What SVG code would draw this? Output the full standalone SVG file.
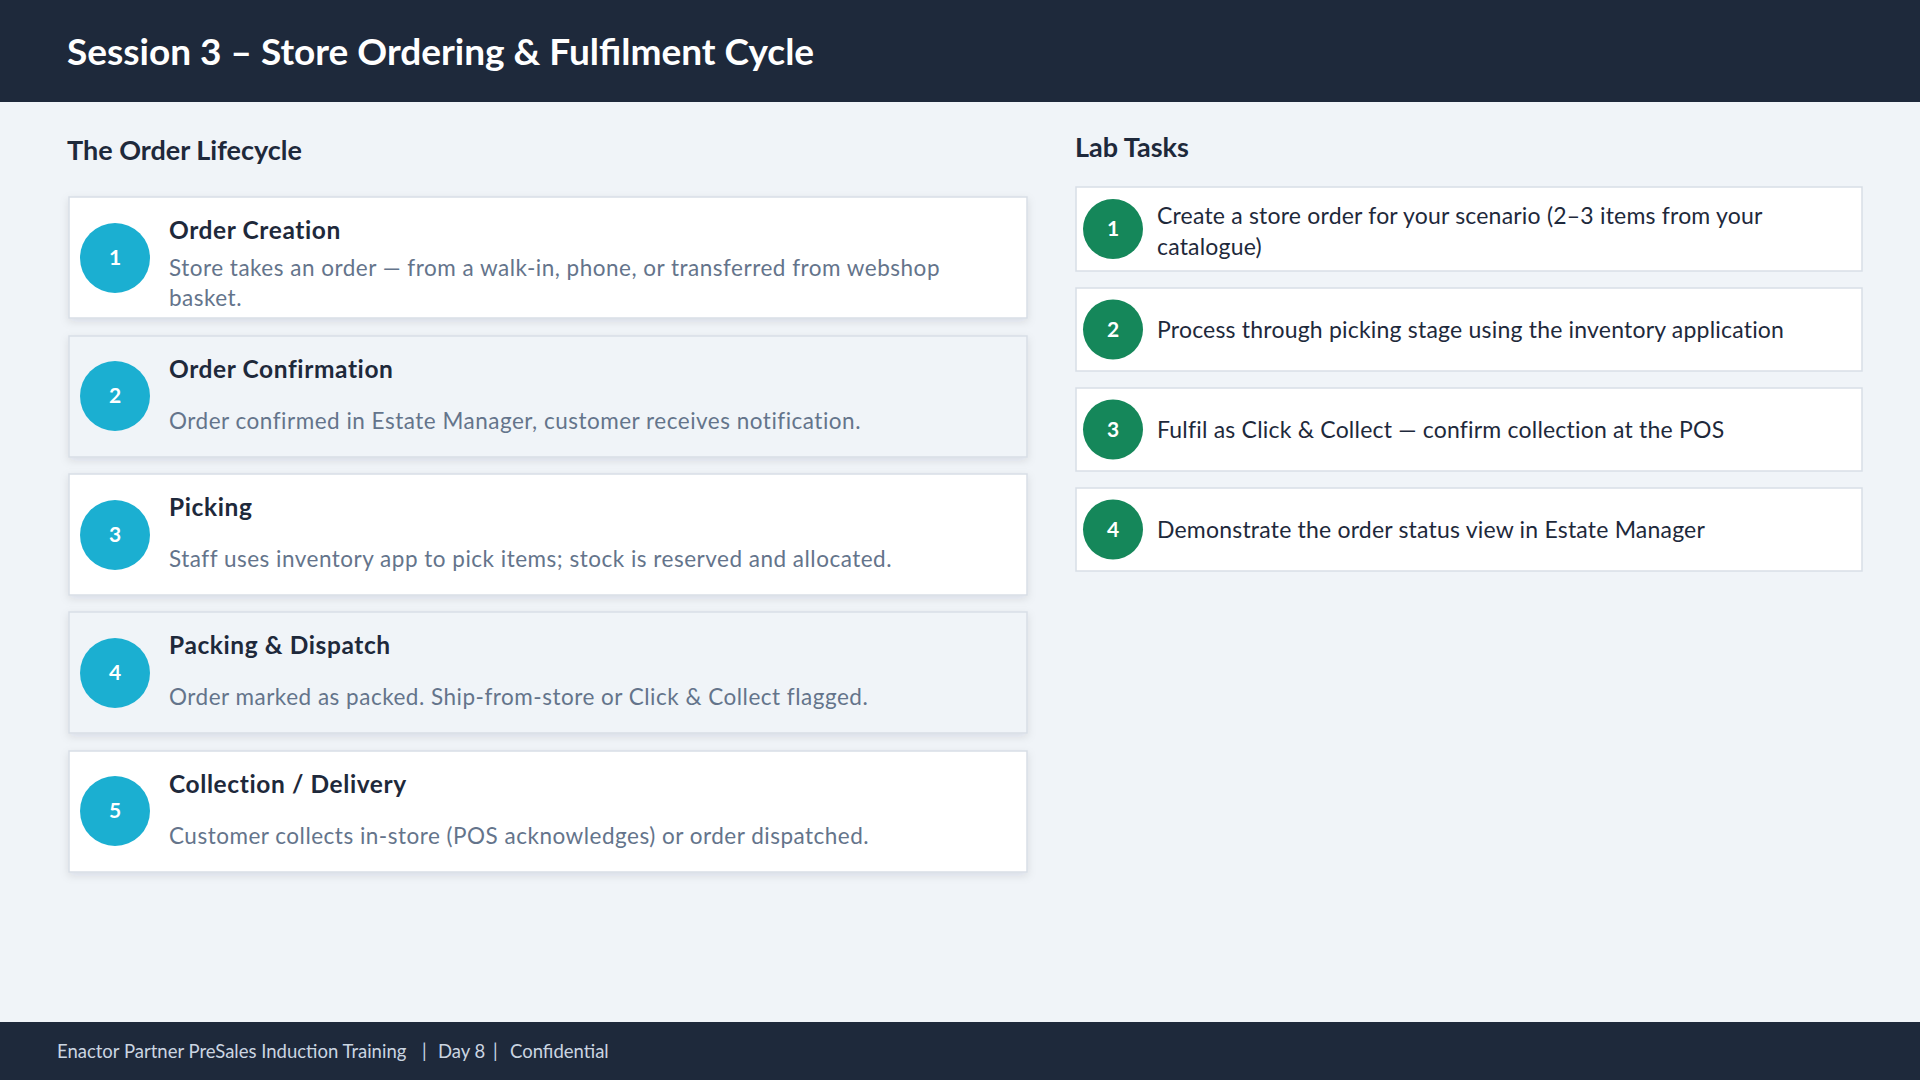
<svg xmlns="http://www.w3.org/2000/svg" width="1920" height="1080" viewBox="0 0 1920 1080">
<style>
.t{font-family:Lato,"Liberation Sans",sans-serif}
.h1{font-size:37px;font-weight:700;fill:#ffffff}
.sec{font-size:27px;font-weight:700;fill:#1e293b}
.ct{font-size:24.5px;font-weight:700;fill:#1e293b;letter-spacing:0.6px}
.cd{font-size:22.5px;fill:#64748b;letter-spacing:0.5px}
.lt{font-size:23px;fill:#1e293b;letter-spacing:0.2px}
.num{font-size:21px;font-weight:700;fill:#ffffff;text-anchor:middle}
.foot{font-size:18.5px;fill:#cbd5e1}
.cardW{fill:#ffffff;stroke:#d8dee6;stroke-width:1.5}
.cardG{fill:#f0f4f8;stroke:#d8dee6;stroke-width:1.5}
.cb{fill:#1bafd1}
.cg{fill:#15875a}
</style>
<defs>
<filter id="sh" x="-5%" y="-20%" width="110%" height="150%">
<feDropShadow dx="0" dy="3" stdDeviation="4" flood-color="#0f172a" flood-opacity="0.10"/>
</filter>
</defs>
<rect width="1920" height="1080" fill="#f0f4f8"/>
<g id="header">
<rect x="0" y="0" width="1920" height="102" fill="#1e293b"/>
<text class="t h1" x="67" y="65">Session 3 – Store Ordering &amp; Fulfilment Cycle</text>
</g>
<text class="t sec" x="67" y="160">The Order Lifecycle</text>
<text class="t sec" x="1075" y="157">Lab Tasks</text>

<g id="step1">
<rect class="cardW" x="69" y="197" width="958" height="121" filter="url(#sh)"/>
<circle class="cb" cx="115" cy="258" r="35"/>
<text class="t num" x="115" y="265">1</text>
<text class="t ct" x="169" y="239">Order Creation</text>
<text class="t cd" x="169" y="276">Store takes an order — from a walk-in, phone, or transferred from webshop</text>
<text class="t cd" x="169" y="306">basket.</text>
</g>
<g id="step2">
<rect class="cardG" x="69" y="336" width="958" height="121" filter="url(#sh)"/>
<circle class="cb" cx="115" cy="396" r="35"/>
<text class="t num" x="115" y="403">2</text>
<text class="t ct" x="169" y="378">Order Confirmation</text>
<text class="t cd" x="169" y="429">Order confirmed in Estate Manager, customer receives notification.</text>
</g>
<g id="step3">
<rect class="cardW" x="69" y="474" width="958" height="121" filter="url(#sh)"/>
<circle class="cb" cx="115" cy="535" r="35"/>
<text class="t num" x="115" y="542">3</text>
<text class="t ct" x="169" y="516">Picking</text>
<text class="t cd" x="169" y="567">Staff uses inventory app to pick items; stock is reserved and allocated.</text>
</g>
<g id="step4">
<rect class="cardG" x="69" y="612" width="958" height="121" filter="url(#sh)"/>
<circle class="cb" cx="115" cy="673" r="35"/>
<text class="t num" x="115" y="680">4</text>
<text class="t ct" x="169" y="654">Packing &amp; Dispatch</text>
<text class="t cd" x="169" y="705">Order marked as packed. Ship-from-store or Click &amp; Collect flagged.</text>
</g>
<g id="step5">
<rect class="cardW" x="69" y="751" width="958" height="121" filter="url(#sh)"/>
<circle class="cb" cx="115" cy="811" r="35"/>
<text class="t num" x="115" y="818">5</text>
<text class="t ct" x="169" y="793">Collection / Delivery</text>
<text class="t cd" x="169" y="844">Customer collects in-store (POS acknowledges) or order dispatched.</text>
</g>

<g id="task1">
<rect class="cardW" x="1076" y="187" width="786" height="84"/>
<circle class="cg" cx="1113" cy="229" r="30"/>
<text class="t num" x="1113" y="236">1</text>
<text class="t lt" x="1157" y="224">Create a store order for your scenario (2–3 items from your</text>
<text class="t lt" x="1157" y="255">catalogue)</text>
</g>
<g id="task2">
<rect class="cardW" x="1076" y="288" width="786" height="83"/>
<circle class="cg" cx="1113" cy="329.5" r="30"/>
<text class="t num" x="1113" y="337">2</text>
<text class="t lt" x="1157" y="338">Process through picking stage using the inventory application</text>
</g>
<g id="task3">
<rect class="cardW" x="1076" y="388" width="786" height="83"/>
<circle class="cg" cx="1113" cy="429.5" r="30"/>
<text class="t num" x="1113" y="437">3</text>
<text class="t lt" x="1157" y="438">Fulfil as Click &amp; Collect — confirm collection at the POS</text>
</g>
<g id="task4">
<rect class="cardW" x="1076" y="488" width="786" height="83"/>
<circle class="cg" cx="1113" cy="529.5" r="30"/>
<text class="t num" x="1113" y="537">4</text>
<text class="t lt" x="1157" y="538">Demonstrate the order status view in Estate Manager</text>
</g>

<g id="connectors"></g>

<g id="footer">
<rect x="0" y="1022" width="1920" height="58" fill="#1e293b"/>
<text class="t foot" y="1058"><tspan x="57">Enactor Partner PreSales Induction Training</tspan><tspan x="422">|</tspan><tspan x="438">Day 8</tspan><tspan x="493">|</tspan><tspan x="510">Confidential</tspan></text>
</g>
</svg>
